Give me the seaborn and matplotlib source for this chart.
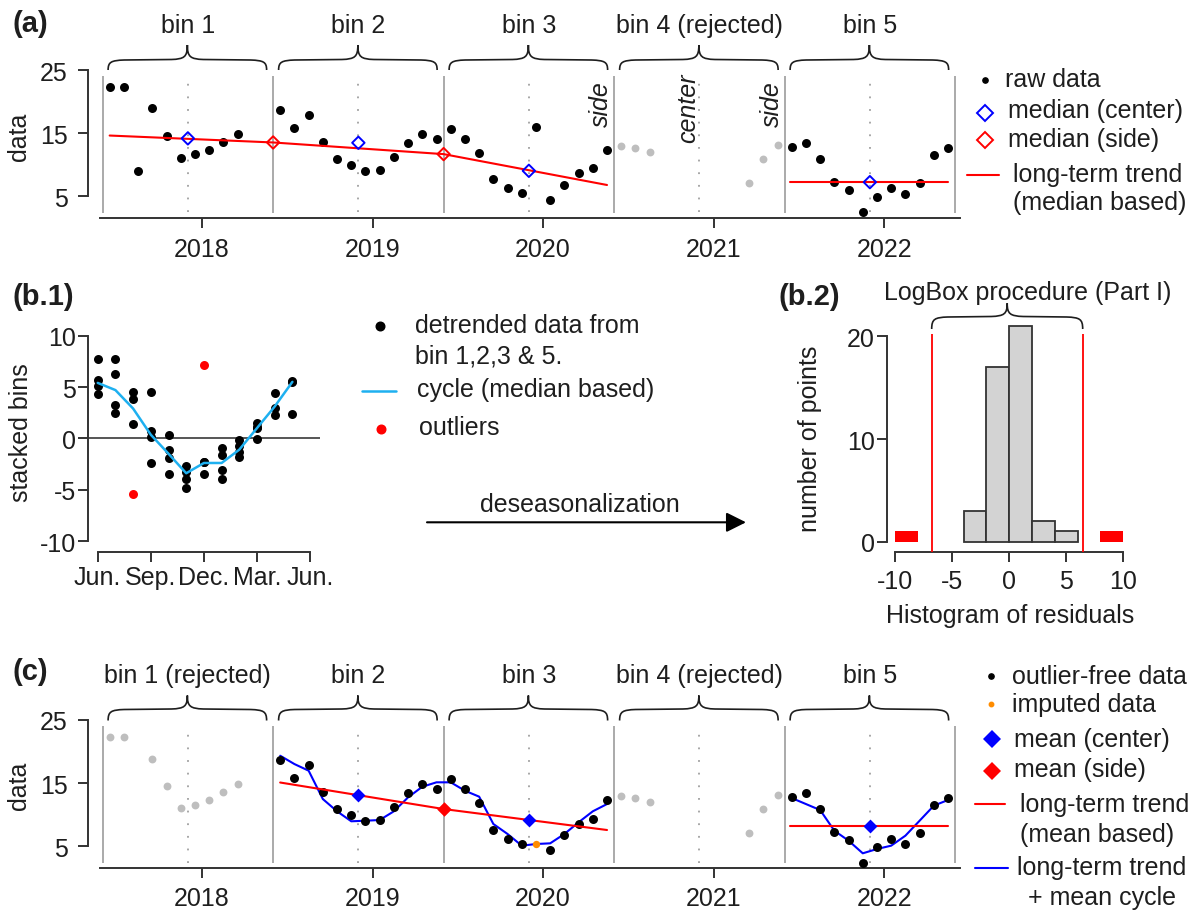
import numpy as np
import pandas as pd
import matplotlib
matplotlib.use("Agg")
import matplotlib.pyplot as plt
from matplotlib.path import Path
from matplotlib.patches import PathPatch
import seaborn as sns

# ---------------- data ----------------
bin_edges = [2017.4167, 2018.4167, 2019.4167, 2020.4167, 2021.4167, 2022.4167]
bin_starts = bin_edges[:5]
year_ticks = [2018, 2019, 2020, 2021, 2022]

bin1_months = [0, 1, 2, 3, 4, 5, 6, 7, 8, 9]
bin1_values = [22.25, 22.25, 8.9, 18.9, 14.6, 11.0, 11.6, 12.3, 13.6, 14.8]
bin2_months = [0, 1, 2, 3, 4, 5, 6, 7, 8, 9, 10, 11]
bin2_values = [18.65, 15.85, 17.8, 13.6, 10.9, 10.0, 9.0, 9.1, 11.2, 13.4, 14.8, 14.0]
bin3_months = [0, 1, 2, 3, 4, 5, 6, 7, 8, 9, 10, 11]
bin3_values = [15.6, 14.1, 11.9, 7.65, 6.2, 5.4, 15.95, 4.4, 6.8, 8.6, 9.4, 12.3]
bin4_months = [0, 1, 2, 9, 10, 11]
bin4_values = [13.0, 12.6, 12.05, 7.1, 10.9, 13.15]
bin5_months = [0, 1, 2, 3, 4, 5, 6, 7, 8, 9, 10, 11]
bin5_values = [12.8, 13.4, 10.9, 7.3, 5.95, 2.4, 4.85, 6.2, 5.3, 7.1, 11.55, 12.65]

outlier_bin1_month = 2
outlier_bin3_month = 6
imputed_bin3_month = 6
imputed_value = 5.4

# panel (a): median based
median_center_x = [2017.9167, 2018.9167, 2019.9167, 2021.9167]
median_center_y = [14.15, 13.45, 9.0, 7.2]
median_side_x = [2018.4167, 2019.4167]
median_side_y = [13.5, 11.65]
trend_med_x = [2017.458, 2018.4167, 2019.4167, 2020.375]
trend_med_y = [14.6, 13.5, 11.65, 6.75]
trend_med5_x = [2021.449, 2022.375]
trend_med5_y = [7.2, 7.2]

# panel (b.1)
detr_months = [0, 0, 0, 0, 1, 1, 1, 1, 2, 2, 2, 3, 3, 3, 3, 4, 4, 4, 4,
               5, 5, 5, 5, 6, 6, 6, 7, 7, 7, 7, 8, 8, 8, 8, 9, 9, 9, 9,
               10, 10, 10, 11, 11, 11]
detr_values = [7.7, 5.7, 5.1, 4.3, 7.7, 6.25, 3.2, 2.45, 4.55, 3.8, 1.4,
               4.55, 0.7, 0.1, -2.4, 0.3, -1.1, -1.9, -3.45,
               -2.65, -3.25, -4.0, -4.8, -2.3, -2.35, -3.5,
               -0.9, -1.65, -3.05, -3.95, -0.2, -0.75, -1.3, -1.85,
               1.45, 1.05, 1.1, -0.05, 4.4, 3.0, 2.3, 5.55, 5.5, 2.4]
outlier_months = [2, 6]
outlier_values = [-5.4, 7.1]
cycle_months = [0, 1, 2, 3, 4, 5, 6, 7, 8, 9, 10, 11]
cycle_values = [5.4, 4.7, 2.9, 0.35, -1.5, -3.4, -2.4, -2.4, -1.1, 1.0, 3.1, 5.5]
b1_xticks = [0, 3, 6, 9, 12]
b1_xlabels = ["Jun.", "Sep.", "Dec.", "Mar.", "Jun."]

# panel (b.2)
hist_edges = [-4, -2, 0, 2, 4, 6]
hist_counts = [3, 17, 21, 2, 1]
hist_out_centers = [-9, 9]
hist_out_counts = [1, 1]
logbox_limits = [-6.75, 6.5]

# panel (c): mean based
mean_center_x = [2018.9167, 2019.9167, 2021.9167]
mean_center_y = [13.17, 9.16, 8.26]
mean_side_x = [2019.4167]
mean_side_y = [10.9]
trend_mean_x = [2018.458, 2019.4167, 2020.375]
trend_mean_y = [15.1, 10.9, 7.58]
trend_mean5_x = [2021.449, 2022.375]
trend_mean5_y = [8.26, 8.26]
fit_bin2 = [19.34, 18.02, 16.97, 12.48, 10.54, 8.96, 9.05, 9.16, 10.54, 12.75, 14.43, 15.13]
fit_bin3 = [15.13, 13.8, 12.86, 8.53, 6.95, 5.1, 5.36, 5.47, 6.95, 8.8, 10.54, 11.69]
fit_bin5 = [12.64, 11.69, 10.74, 7.47, 5.89, 3.89, 4.57, 5.1, 6.68, 9.05, 11.43, 12.33]

# ---------------- style ----------------
sns.set_style("ticks")
plt.rcParams['font.family'] = ['Liberation Sans', 'DejaVu Sans']
plt.rcParams['axes.unicode_minus'] = False

INK = '#1e1e1e'
AXC = '#333333'
GRAYPT = '#bebebe'
W, H = 1192, 912
fig = plt.figure(figsize=(W / 100, H / 100), dpi=100)


def px_axes(l, t, r, b):
    return fig.add_axes([l / W, 1 - b / H, (r - l) / W, (b - t) / H])


def style(ax, xb, yb, xpad, ypad):
    sns.despine(ax=ax)
    for s in ('left', 'bottom'):
        ax.spines[s].set_color(AXC)
        ax.spines[s].set_linewidth(1.4)
    ax.spines['bottom'].set_bounds(*xb)
    ax.spines['left'].set_bounds(*yb)
    ax.tick_params(length=7.5, width=1.4, color=AXC, labelsize=18, labelcolor=INK)
    ax.tick_params(axis='x', pad=xpad)
    ax.tick_params(axis='y', pad=ypad)
    ax.set_xlabel('')
    ax.set_ylabel('')
    ax.patch.set_alpha(0)


def tyear(start, months):
    return [start + (m + 0.5) / 12 for m in months]


def draw_bins_bg(ax):
    ax.vlines(bin_edges, 2.3, 24.0, color='#aaaaaa', lw=1.4, zorder=1)
    centers = [s + 0.5 for s in bin_starts]
    ax.vlines(centers, 2.4, 23.3, color='#a0a0a0', lw=1.3,
              linestyles=[(0, (1, 6))], zorder=1)


DOT = 42
GDOT = 32

# ---------------- panel (a) ----------------
ax_a = px_axes(88, 60, 962, 219)
ax_a.set_xlim(2017.331, 2022.457)
ax_a.set_ylim(1.51, 26.75)
draw_bins_bg(ax_a)
a_black_t = (tyear(bin_starts[0], bin1_months) + tyear(bin_starts[1], bin2_months)
             + tyear(bin_starts[2], bin3_months) + tyear(bin_starts[4], bin5_months))
a_black_v = bin1_values + bin2_values + bin3_values + bin5_values
sns.scatterplot(x=tyear(bin_starts[3], bin4_months), y=bin4_values, ax=ax_a,
                color=GRAYPT, s=GDOT, linewidth=0, zorder=3)
sns.scatterplot(x=a_black_t, y=a_black_v, ax=ax_a, color='black', s=DOT,
                linewidth=0, zorder=4)
sns.lineplot(x=trend_med_x, y=trend_med_y, ax=ax_a, color='red', lw=1.5,
             sort=False, estimator=None, zorder=5)
sns.lineplot(x=trend_med5_x, y=trend_med5_y, ax=ax_a, color='red', lw=1.5,
             sort=False, estimator=None, zorder=5)
ax_a.scatter(median_center_x, median_center_y, marker='D', s=40,
             facecolors='none', edgecolors='blue', linewidths=1.4, zorder=6)
ax_a.scatter(median_side_x, median_side_y, marker='D', s=40,
             facecolors='none', edgecolors='red', linewidths=1.4, zorder=6)
ax_a.set_xticks(year_ticks)
ax_a.set_xticklabels([str(y) for y in year_ticks])
ax_a.set_yticks([5, 15, 25])
ax_a.set_yticklabels(['5', '15', '25'])
style(ax_a, (2017.402, 2022.446), (5, 25), 6, 7)

# ---------------- panel (c) ----------------
ax_c = px_axes(88, 705, 962, 869.3)
ax_c.set_xlim(2017.331, 2022.457)
ax_c.set_ylim(1.516, 27.53)
draw_bins_bg(ax_c)
c_gray_t = ([t for t, m in zip(tyear(bin_starts[0], bin1_months), bin1_months) if m != outlier_bin1_month]
            + tyear(bin_starts[3], bin4_months))
c_gray_v = ([v for v, m in zip(bin1_values, bin1_months) if m != outlier_bin1_month]
            + bin4_values)
c_black_t = (tyear(bin_starts[1], bin2_months)
             + [t for t, m in zip(tyear(bin_starts[2], bin3_months), bin3_months) if m != outlier_bin3_month]
             + tyear(bin_starts[4], bin5_months))
c_black_v = (bin2_values
             + [v for v, m in zip(bin3_values, bin3_months) if m != outlier_bin3_month]
             + bin5_values)
sns.scatterplot(x=c_gray_t, y=c_gray_v, ax=ax_c, color=GRAYPT, s=GDOT,
                linewidth=0, zorder=3)
sns.lineplot(x=tyear(bin_starts[1], bin2_months) + tyear(bin_starts[2], bin3_months),
             y=fit_bin2 + fit_bin3, ax=ax_c, color='blue', lw=1.5,
             sort=False, estimator=None, zorder=4)
sns.lineplot(x=tyear(bin_starts[4], bin5_months), y=fit_bin5, ax=ax_c,
             color='blue', lw=1.5, sort=False, estimator=None, zorder=4)
sns.scatterplot(x=c_black_t, y=c_black_v, ax=ax_c, color='black', s=DOT,
                linewidth=0, zorder=5)
sns.scatterplot(x=tyear(bin_starts[2], [imputed_bin3_month]), y=[imputed_value],
                ax=ax_c, color='#ff8c00', s=28, linewidth=0, zorder=5)
sns.lineplot(x=trend_mean_x, y=trend_mean_y, ax=ax_c, color='red', lw=1.5,
             sort=False, estimator=None, zorder=6)
sns.lineplot(x=trend_mean5_x, y=trend_mean5_y, ax=ax_c, color='red', lw=1.5,
             sort=False, estimator=None, zorder=6)
sns.scatterplot(x=mean_center_x, y=mean_center_y, ax=ax_c, marker='D', s=50,
                color='blue', linewidth=0, zorder=7)
sns.scatterplot(x=mean_side_x, y=mean_side_y, ax=ax_c, marker='D', s=55,
                color='red', linewidth=0, zorder=7)
ax_c.set_xticks(year_ticks)
ax_c.set_xticklabels([str(y) for y in year_ticks])
ax_c.set_yticks([5, 15, 25])
ax_c.set_yticklabels(['5', '15', '25'])
style(ax_c, (2017.402, 2022.446), (5, 25), 5, 7)

# ---------------- panel (b.1) ----------------
ax_b1 = px_axes(88, 330, 320, 553.3)
ax_b1.set_xlim(-0.55, 12.56)
ax_b1.set_ylim(-11.1, 10.65)
ax_b1.axhline(0, color='#555555', lw=1.4, zorder=1)
sns.scatterplot(x=detr_months, y=detr_values, ax=ax_b1, color='black', s=DOT,
                linewidth=0, zorder=3)
sns.lineplot(x=cycle_months, y=cycle_values, ax=ax_b1, color='#1eb0f0', lw=1.8,
             sort=False, estimator=None, zorder=4)
sns.scatterplot(x=outlier_months, y=outlier_values, ax=ax_b1, color='red', s=DOT,
                linewidth=0, zorder=5)
ax_b1.set_xticks(b1_xticks)
ax_b1.set_xticklabels(b1_xlabels)
ax_b1.set_yticks([-10, -5, 0, 5, 10])
ax_b1.set_yticklabels(['-10', '-5', '0', '5', '10'])
style(ax_b1, (0, 12), (-10, 10), 2, 1)

# ---------------- panel (b.2) ----------------
ax_b2 = px_axes(886.7, 325, 1130, 552.7)
ax_b2.set_xlim(-10.73, 10.59)
ax_b2.set_ylim(-0.97, 21.2)
hist_centers = [(a + b) / 2 for a, b in zip(hist_edges[:-1], hist_edges[1:])]
sns.histplot(x=hist_centers, weights=hist_counts, bins=hist_edges, ax=ax_b2,
             color='#d3d3d3', edgecolor='#333333', linewidth=1.3, alpha=1, zorder=3)
sns.histplot(x=hist_out_centers, weights=hist_out_counts,
             bins=[-10, -8, 8, 10], ax=ax_b2, color='red', linewidth=0,
             alpha=1, zorder=3)
ax_b2.vlines(logbox_limits, -0.97, 20.2, color='red', lw=1.3, zorder=4)
ax_b2.set_xticks([-10, -5, 0, 5, 10])
ax_b2.set_xticklabels(['-10', '-5', '0', '5', '10'])
ax_b2.set_yticks([0, 10, 20])
ax_b2.set_yticklabels(['0', '10', '20'])
style(ax_b2, (-10, 10), (0, 20), 5, 1)

# ---------------- overlay: labels, braces, legends ----------------
ov = fig.add_axes([0, 0, 1, 1], zorder=10)
ov.set_xlim(0, W)
ov.set_ylim(H, 0)
ov.axis('off')
ov.patch.set_alpha(0)


def to_px(ax, x, y=0):
    d = ax.transData.transform((x, y))
    return d[0], H - d[1]


def brace(x0, x1, yb, yh, yt, q=16):
    xm = (x0 + x1) / 2
    verts = [(x0, yb),
             (x0, yh + 2), (x0 + 3, yh + 0.5), (x0 + q, yh),
             (xm - q, yh - 0.5),
             (xm - 3, yh - 1), (xm, yh - 3), (xm, yt),
             (xm, yh - 3), (xm + 3, yh - 1), (xm + q, yh - 0.5),
             (x1 - q, yh),
             (x1 - 3, yh + 0.5), (x1, yh + 2), (x1, yb)]
    codes = [Path.MOVETO, Path.CURVE4, Path.CURVE4, Path.CURVE4, Path.LINETO,
             Path.CURVE4, Path.CURVE4, Path.CURVE4, Path.CURVE4, Path.CURVE4,
             Path.CURVE4, Path.LINETO, Path.CURVE4, Path.CURVE4, Path.CURVE4]
    ov.add_patch(PathPatch(Path(verts, codes), fill=False, lw=1.2, ec=INK))


def txt(x, y, s, **kw):
    kw.setdefault('fontsize', 18)
    kw.setdefault('color', INK)
    kw.setdefault('va', 'baseline')
    ov.text(x, y, s, **kw)


labels_a = ['bin 1', 'bin 2', 'bin 3', 'bin 4 (rejected)', 'bin 5']
labels_c = ['bin 1 (rejected)', 'bin 2', 'bin 3', 'bin 4 (rejected)', 'bin 5']
for k in range(5):
    xa0, _ = to_px(ax_a, bin_edges[k])
    xa1, _ = to_px(ax_a, bin_edges[k + 1])
    brace(xa0 + 5.5, xa1 - 6.5, 71, 61, 46)
    txt((xa0 + xa1) / 2, 33, labels_a[k], ha='center')
    xc0, _ = to_px(ax_c, bin_edges[k])
    xc1, _ = to_px(ax_c, bin_edges[k + 1])
    brace(xc0 + 5.5, xc1 - 6.5, 721.5, 710.5, 696.5)
    txt((xc0 + xc1) / 2, 683, labels_c[k], ha='center')

# side / center annotations in (a)
for xs, s, yc in [(601.2, 'side', 104), (688, 'center', 108.5), (772.2, 'side', 104)]:
    txt(xs, yc, s, ha='center', va='center', rotation=90, style='italic')

# panel labels
txt(12, 31.7, '(a)', fontsize=21, fontweight='bold')
txt(12, 305, '(b.1)', fontsize=21, fontweight='bold')
txt(779, 305, '(b.2)', fontsize=21, fontweight='bold')
txt(12, 680, '(c)', fontsize=21, fontweight='bold')

# axis titles
txt(19, 136.6, 'data', rotation=90, ha='center', va='center')
txt(19, 786, 'data', rotation=90, ha='center', va='center')
txt(21, 433, 'stacked bins', rotation=90, ha='center', va='center')
txt(810, 438.5, 'number of points', rotation=90, ha='center', va='center')
txt(1010, 623, 'Histogram of residuals', ha='center')
txt(1028, 300, 'LogBox procedure (Part I)', ha='center')
brace(931.7, 1082.7, 330, 318, 304.3)

# arrow
txt(580, 511.7, 'deseasonalization', ha='center')
ov.annotate('', xy=(746, 523.3), xytext=(427, 523.3),
            arrowprops=dict(arrowstyle='-|>', lw=1.5, color='black',
                            mutation_scale=30, shrinkA=0, shrinkB=0))

# legend (a)
ov.plot([985], [80.7], 'o', color='black', ms=3.8)
ov.plot([985], [114], 'D', mfc='none', mec='blue', ms=8.3, mew=1.4)
ov.plot([985], [140.7], 'D', mfc='none', mec='red', ms=8.3, mew=1.4)
ov.plot([967, 999], [176, 176], color='red', lw=1.5)
txt(1005, 86.7, 'raw data')
txt(1008, 118.3, 'median (center)')
txt(1008, 146.7, 'median (side)')
txt(1013, 181.7, 'long-term trend')
txt(1013, 210, '(median based)')

# legend (b.1)
ov.plot([380], [327.3], 'o', color='black', ms=6.2)
ov.plot([361.7, 396], [391.7, 391.7], color='#1eb0f0', lw=1.8)
ov.plot([380.7], [430], 'o', color='red', ms=6.2)
txt(415, 333.3, 'detrended data from')
txt(415, 363.3, 'bin 1,2,3 & 5.')
txt(416.7, 396.7, 'cycle (median based)')
txt(419, 435, 'outliers')

# legend (c)
ov.plot([990.7], [677.3], 'o', color='black', ms=3.8)
ov.plot([990.7], [705], 'o', color='#ff8c00', ms=3.2)
ov.plot([992], [740], 'D', color='blue', ms=9.0, mew=0)
ov.plot([992], [771.7], 'D', color='red', ms=9.0, mew=0)
ov.plot([975, 1005], [805, 805], color='red', lw=1.5)
ov.plot([975, 1008], [869.3, 869.3], color='blue', lw=1.5)
txt(1011.7, 684, 'outlier-free data')
txt(1011.7, 711.7, 'imputed data')
txt(1014, 746.7, 'mean (center)')
txt(1014, 776.7, 'mean (side)')
txt(1020, 811.7, 'long-term trend')
txt(1020, 841.7, '(mean based)')
txt(1017.3, 875, 'long-term trend')
txt(1028.3, 905, '+ mean cycle')

fig.savefig('out.png', dpi=100)
